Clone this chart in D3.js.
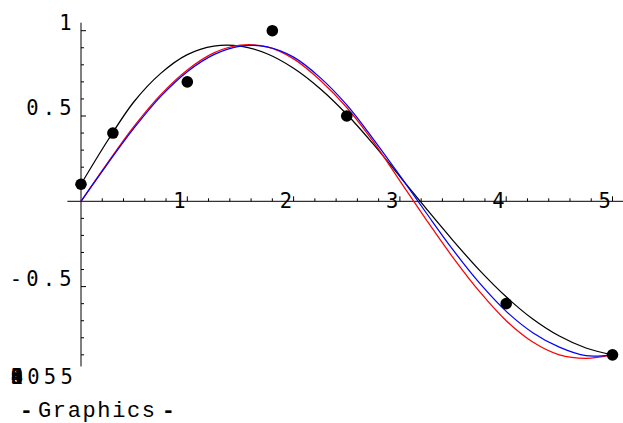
<!DOCTYPE html>
<html>
<head>
<meta charset="utf-8">
<script src="https://cdn.jsdelivr.net/npm/d3@7"></script>
<style>
  html, body { margin: 0; padding: 0; background: #fff; }
  svg { display: block; }
  .tick-label { font-family: "DejaVu Sans Mono", monospace; font-size: 20.5px; fill: #000; }
  .spaced { letter-spacing: 4.2px; }
  .caption { font-family: "Liberation Mono", "Courier New", monospace; font-size: 22px; fill: #000; }
</style>
</head>
<body>
<script>
// Sample grid shared by the three fitted curves
const sampleX = [0, 0.25, 0.5, 0.75, 1.0, 1.25, 1.5, 1.75, 2.0, 2.25, 2.5,
                 2.75, 3.0, 3.25, 3.5, 3.75, 4.0, 4.25, 4.5, 4.75, 5.0];

// Curve values on that grid
const blackY = [0.10, 0.355, 0.585, 0.75, 0.86, 0.91, 0.91, 0.865, 0.78, 0.66, 0.51,
                0.335, 0.145, -0.045, -0.23, -0.405, -0.56, -0.69, -0.79, -0.86, -0.90];
const redY   = [0, 0.225, 0.44, 0.625, 0.77, 0.87, 0.915, 0.905, 0.835, 0.71, 0.55,
                0.35, 0.12, -0.11, -0.33, -0.53, -0.70, -0.825, -0.90, -0.92, -0.90];
const blueY  = [0, 0.22, 0.43, 0.615, 0.76, 0.86, 0.91, 0.905, 0.845, 0.725, 0.565,
                0.365, 0.15, -0.07, -0.285, -0.48, -0.645, -0.77, -0.855, -0.905, -0.90];

// Measured data points
const pointX = [0, 0.3, 1.0, 1.8, 2.5, 4.0, 5.0];
const pointY = [0.1, 0.4, 0.7, 1.0, 0.5, -0.6, -0.9];

// Axis ticks
const xMajor = [1, 2, 3, 4, 5];
const xMajorLabels = ["1", "2", "3", "4", "5"];
const xMinor = [0.2, 0.4, 0.6, 0.8, 1.2, 1.4, 1.6, 1.8, 2.2, 2.4, 2.6, 2.8,
                3.2, 3.4, 3.6, 3.8, 4.2, 4.4, 4.6, 4.8];
const yMajor = [1, 0.5, -0.5];
const yMajorLabels = ["1", "0.5", "-0.5"];
const yMinor = [0.9, 0.8, 0.7, 0.6, 0.4, 0.3, 0.2, 0.1,
                -0.1, -0.2, -0.3, -0.4, -0.6, -0.7, -0.8, -0.9];

const W = 623, H = 423;
const x = d3.scaleLinear().domain([0, 5]).range([81, 612.5]);
const y = d3.scaleLinear().domain([0, 1]).range([201.3, 30.7]);

const svg = d3.select("body").append("svg")
  .attr("width", W).attr("height", H)
  .attr("viewBox", `0 0 ${W} ${H}`);

svg.append("rect").attr("width", W).attr("height", H).attr("fill", "#fff");

const axes = svg.append("g").attr("stroke", "#000").attr("stroke-width", 1);

// Axis lines
axes.append("line")
  .attr("x1", x(-0.128)).attr("x2", x(5.1))
  .attr("y1", y(0)).attr("y2", y(0));
axes.append("line")
  .attr("x1", x(0)).attr("x2", x(0))
  .attr("y1", y(1.047)).attr("y2", y(-0.968));

// x ticks point upward from the axis
axes.selectAll(".xmaj").data(xMajor).join("line")
  .attr("x1", d => x(d)).attr("x2", d => x(d))
  .attr("y1", y(0)).attr("y2", y(0) - 5);
axes.selectAll(".xmin").data(xMinor).join("line")
  .attr("x1", d => x(d)).attr("x2", d => x(d))
  .attr("y1", y(0)).attr("y2", y(0) - 3);

// y ticks point right from the axis
axes.selectAll(".ymaj").data(yMajor).join("line")
  .attr("x1", x(0)).attr("x2", x(0) + 5)
  .attr("y1", d => y(d)).attr("y2", d => y(d));
axes.selectAll(".ymin").data(yMinor).join("line")
  .attr("x1", x(0)).attr("x2", x(0) + 3)
  .attr("y1", d => y(d)).attr("y2", d => y(d));

// Tick labels
svg.selectAll(".xl").data(xMajor).join("text")
  .attr("class", "tick-label")
  .attr("text-anchor", "middle")
  .attr("x", d => x(d) - 7.8)
  .attr("y", y(0) + 6.6)
  .text((d, i) => xMajorLabels[i]);

svg.selectAll(".yl").data(yMajor).join("text")
  .attr("class", "tick-label spaced")
  .attr("text-anchor", "end")
  .attr("x", x(0) - 5.2)
  .attr("y", d => y(d) - 0.6)
  .text((d, i) => yMajorLabels[i]);

// Crowded labels at the bottom of the vertical axis, printed over each other
const bottomLabel = svg.append("g").attr("class", "tick-label");
["0", "8", "9", "6", "1", "4", "3", "5"].forEach(c => {
  bottomLabel.append("text").attr("x", 10.8).attr("y", 383.5).text(c);
});
bottomLabel.append("text").attr("class", "spaced").attr("x", 27.3).attr("y", 383.5).text("055");

// Curves
const line = d3.line().x(d => x(d[0])).y(d => y(d[1])).curve(d3.curveCatmullRom.alpha(0.5));
const curves = [
  { ys: blackY, color: "#000" },
  { ys: redY, color: "#ff0000" },
  { ys: blueY, color: "#0000ff" }
];
svg.append("g").attr("fill", "none").attr("stroke-width", 1.25)
  .selectAll("path").data(curves).join("path")
  .attr("stroke", d => d.color)
  .attr("d", d => line(sampleX.map((v, i) => [v, d.ys[i]])));

// Data points
svg.append("g").selectAll("circle").data(pointX).join("circle")
  .attr("cx", d => x(d))
  .attr("cy", (d, i) => y(pointY[i]))
  .attr("r", 5.8)
  .attr("fill", "#000");

// Caption under the graphic
const cap = svg.append("g").attr("class", "caption");
cap.append("text").attr("x", 26.3).attr("y", 417).attr("text-anchor", "middle").attr("font-weight", "bold").text("-");
cap.append("text").attr("x", 96.5).attr("y", 417).attr("text-anchor", "middle").attr("textLength", 117).text("Graphics");
cap.append("text").attr("x", 168.3).attr("y", 417).attr("text-anchor", "middle").attr("font-weight", "bold").text("-");
</script>
</body>
</html>
